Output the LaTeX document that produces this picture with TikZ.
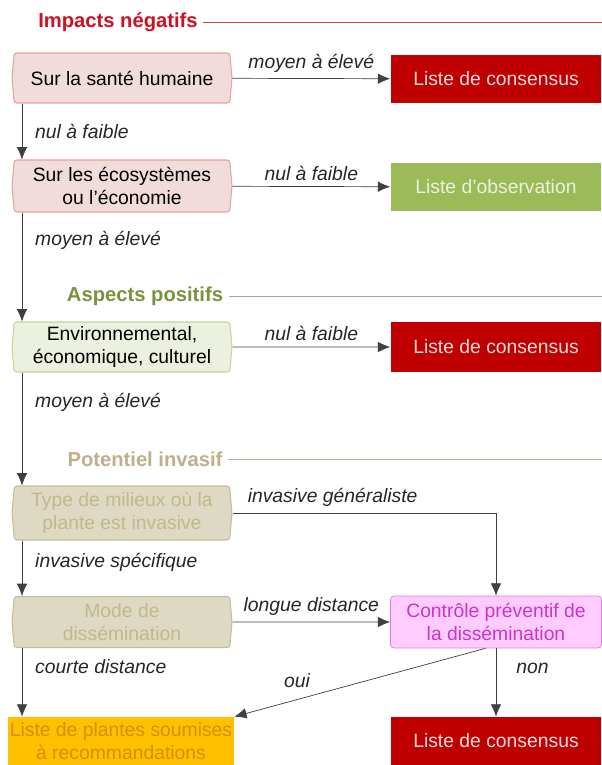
\documentclass[tikz,border=0pt]{standalone}
\usepackage{fontspec}
\setmainfont{Liberation Sans}
\usetikzlibrary{positioning, calc, shapes.symbols, arrows.meta}
\definecolor{redtitle}{HTML}{CC1122}
\definecolor{redlist}{HTML}{C00000}
\definecolor{pinkfill}{HTML}{F2DCDB}
\definecolor{pinkline}{HTML}{DFA5A3}
\definecolor{greenlist}{HTML}{9BBB59}
\definecolor{greentitle}{HTML}{77933C}
\definecolor{greenfill}{HTML}{EBF1DE}
\definecolor{greenline}{HTML}{C3D69B}
\definecolor{tantitle}{HTML}{BDB089}
\definecolor{tanfill}{HTML}{DDD9C3}
\definecolor{tanline}{HTML}{C4BD97}
\definecolor{tantext}{HTML}{C2B88E}
\definecolor{magfill}{HTML}{FFCCFF}
\definecolor{magline}{HTML}{E07AE0}
\definecolor{magtext}{HTML}{CC33CC}
\definecolor{orangefill}{HTML}{FFC000}
\definecolor{orangetext}{HTML}{D98E00}

\begin{document}
\begin{tikzpicture}[
          x = 0.02cm, y = -0.02cm,
          font = \fontsize{11}{13}\selectfont,
          every node/.style = {align = center}
        ]
          \tikzstyle {question} = [shape = signal, signal to = west and east, signal pointer angle = 170,
                                   rounded corners = 1.5pt,
                                   minimum width = 4.4cm, minimum height = 1cm, inner sep = 1pt, line width = .6pt]
          \tikzstyle {verdict} = [shape = rectangle, minimum width = 4.22cm, minimum height = 0.96cm, inner sep = 1pt]
          \tikzstyle {heading} = [font = \fontsize{11.5}{13}\selectfont\bfseries, inner sep = 3pt]
          \tikzstyle {flow} = [draw = black!75, thin, -{Latex[length = 7pt, width = 6pt]}]
          \tikzstyle {choice} = [font = \fontsize{11}{13}\selectfont\itshape, text = black!85]
          \useasboundingbox (0,0) rectangle (602,765);
          % place nodes
          \coordinate (spine) at (22,0);
          \coordinate (edge) at (602,0);
          \path node (impacts) [heading, text = redtitle] at (118,22) {Impacts négatifs};
          \path node (sante) [question, fill = pinkfill, draw = pinkline] at (122,78) {Sur la santé humaine};
          \path node (cons1) [verdict, fill = redlist, text = pinkfill] at (496,79) {Liste de consensus};
          \path node (eco) [question, fill = pinkfill, draw = pinkline, minimum height = 1.04cm] at (122,186) {Sur les écosystèmes\\ou l'économie};
          \path node (obs) [verdict, fill = greenlist, text = greenfill] at (496,187) {Liste d'observation};
          \path node (positifs) [heading, text = greentitle] at (145,296) {Aspects positifs};
          \path node (env) [question, fill = greenfill, draw = greenline] at (122,347) {Environnemental,\\économique, culturel};
          \path node (cons2) [verdict, fill = redlist, text = pinkfill, minimum height = 1cm] at (496,347) {Liste de consensus};
          \path node (invasif) [heading, text = tantitle] at (145,459) {Potentiel invasif};
          \path node (milieux) [question, fill = tanfill, draw = tanline, text = tantext, minimum height = 1.08cm] at (122,513) {Type de milieux où la\\plante est invasive};
          \path node (mode) [question, fill = tanfill, draw = tanline, text = tantext, minimum height = 1.02cm] at (122,622) {Mode de\\dissémination};
          \path node (controle) [verdict, fill = magfill, draw = magline, text = magtext, rounded corners = 2pt, minimum height = 1.04cm] at (496,622) {Contrôle préventif de\\la dissémination};
          \path node (plantes) [verdict, fill = orangefill, text = orangetext, minimum width = 4.44cm] at (121,741) {Liste de plantes soumises\\à recommandations};
          \path node (cons3) [verdict, fill = redlist, text = pinkfill] at (496,741) {Liste de consensus};
          % place title rules
          \draw [redtitle!80, thin] (impacts.east) -- (impacts.east -| edge);
          \draw [greentitle!50!gray!70, thin] (positifs.east) -- (positifs.east -| edge);
          \draw [tanline!80!gray, thin] (invasif.east) -- (invasif.east -| edge);
          % place edges
          \draw [flow] (sante) -- node [choice, above] {moyen à élevé} (cons1);
          \draw [flow] (eco) -- node [choice, above] {nul à faible} (obs);
          \draw [flow] (env) -- node [choice, above] {nul à faible} (cons2);
          \draw [flow] (mode) -- node [choice, above] {longue distance} (controle);
          \draw [flow] (sante.south -| spine) -- node [choice, right = 4pt] {nul à faible} (eco.north -| spine);
          \draw [flow] (eco.south -| spine) -- node [choice, right = 4pt, pos = .26] {moyen à élevé} (env.north -| spine);
          \draw [flow] (env.south -| spine) -- node [choice, right = 4pt, pos = .26] {moyen à élevé} (milieux.north -| spine);
          \draw [flow] (milieux.south -| spine) -- node [choice, right = 4pt, pos = .4] {invasive spécifique} (mode.north -| spine);
          \draw [flow] (mode.south -| spine) -- node [choice, right = 4pt, pos = .27] {courte distance} (plantes.north -| spine);
          \draw [flow] (milieux.east) -| node [choice, above, pos = .19] {invasive généraliste} (controle.north);
          \draw [flow] ([xshift = -6pt] controle.south) -- node [choice, above = 3pt, pos = .75] {oui} (plantes.north east);
          \draw [flow] (controle.south) -- node [choice, right = 8pt, pos = .3] {non} (cons3.north);
        \end{tikzpicture}
\end{document}
